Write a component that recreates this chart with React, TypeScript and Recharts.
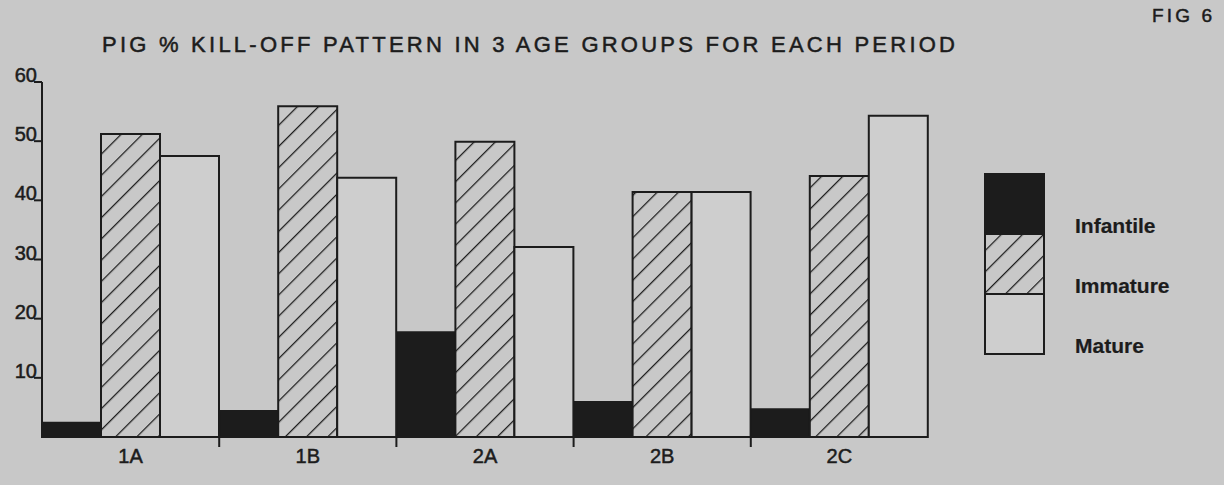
import { Bar, BarChart, Legend, XAxis, YAxis } from "recharts";

const CATEGORIES = ["1A", "1B", "2A", "2B", "2C"];
const INFANTILE = [2.4, 4.4, 17.7, 5.9, 4.7];
const IMMATURE = [51.2, 55.9, 49.9, 41.4, 44.1];
const MATURE = [47.5, 43.8, 32.1, 41.4, 54.3];
const Y_TICKS = [10, 20, 30, 40, 50, 60];

const TITLE = "PIG % KILL-OFF PATTERN IN 3 AGE GROUPS FOR EACH PERIOD";
const FIG_LABEL = "FIG 6";

const BG = "#c8c8c8";
const INK = "#1c1c1c";
const PAPER = "#cecece";
const FONT = "'Liberation Sans', Arial, sans-serif";

const WIDTH = 1224;
const HEIGHT = 485;
const MARGIN = { top: 82, right: 296, bottom: 0, left: 2 } as const;
const Y_AXIS_W = 40;
const X_AXIS_H = 48;
const BAND = (WIDTH - MARGIN.left - Y_AXIS_W - MARGIN.right) / CATEGORIES.length;

const SERIES = [
  { key: "infantile", name: "Infantile", fill: INK },
  { key: "immature", name: "Immature", fill: "url(#hatch)" },
  { key: "mature", name: "Mature", fill: PAPER },
] as const;

const data = CATEGORIES.map((period, i) => ({
  period,
  infantile: INFANTILE[i],
  immature: IMMATURE[i],
  mature: MATURE[i],
}));

type TickProps = {
  x?: number | string;
  y?: number | string;
  index?: number;
  payload?: { value: string | number };
};

// scanned type looks heavy, so every label gets a thin outline
const inkText = { fill: INK, stroke: INK, strokeWidth: 0.5, fontFamily: FONT };

function ValueTick({ x, y, payload }: TickProps) {
  const ax = Number(x);
  const ty = Number(y);
  return (
    <g>
      <text x={ax - 5} y={ty} textAnchor="end" fontSize={20} {...inkText}>
        {payload?.value}
      </text>
      <line x1={ax - 8} x2={ax} y1={ty} y2={ty} stroke={INK} strokeWidth={2} />
    </g>
  );
}

function PeriodTick({ x, y, payload, index = 0 }: TickProps) {
  const cx = Number(x);
  const ty = Number(y);
  const edge = cx - BAND / 2;
  return (
    <g>
      <text x={cx} y={ty + 26} textAnchor="middle" fontSize={20} {...inkText}>
        {payload?.value}
      </text>
      {index > 0 && (
        <line x1={edge} x2={edge} y1={ty} y2={ty + 10} stroke={INK} strokeWidth={2} />
      )}
    </g>
  );
}

function KeyBox() {
  const boxH = 60;
  return (
    <svg width={220} height={190}>
      {SERIES.map((s, i) => (
        <g key={s.key}>
          <rect
            x={5}
            y={4 + i * boxH}
            width={59}
            height={boxH}
            fill={s.fill}
            stroke={INK}
            strokeWidth={2}
          />
          <text x={95} y={3 + (i + 1) * boxH} fontSize={21} fontWeight={700} {...inkText} strokeWidth={0.2}>
            {s.name}
          </text>
        </g>
      ))}
    </svg>
  );
}

export default function App() {
  return (
    <div
      style={{
        position: "absolute",
        left: 0,
        top: 0,
        width: WIDTH,
        height: HEIGHT,
        background: BG,
        overflow: "hidden",
      }}
    >
      <svg width={0} height={0} style={{ position: "absolute" }}>
        <defs>
          <pattern
            id="hatch"
            width={15}
            height={15}
            patternUnits="userSpaceOnUse"
            patternTransform="rotate(45)"
          >
            <rect width={15} height={15} fill={BG} />
            <line x1={0} y1={0} x2={0} y2={15} stroke={INK} strokeWidth={2.5} />
          </pattern>
        </defs>
      </svg>

      <svg width={WIDTH} height={70} style={{ position: "absolute", left: 0, top: 0 }}>
        <text x={102} y={52} textLength={853} lengthAdjust="spacing" fontSize={22} {...inkText}>
          {TITLE}
        </text>
        <text x={1152} y={22} textLength={60} lengthAdjust="spacing" fontSize={19} {...inkText}>
          {FIG_LABEL}
        </text>
      </svg>

      <div style={{ position: "absolute", left: 0, top: 0 }}>
        <BarChart
          width={WIDTH}
          height={HEIGHT}
          data={data}
          margin={MARGIN}
          barCategoryGap={0}
          barGap={0}
        >
          <XAxis
            dataKey="period"
            height={X_AXIS_H}
            tickSize={0}
            tickMargin={0}
            axisLine={{ stroke: INK, strokeWidth: 2 }}
            tickLine={false}
            interval={0}
            tick={(props: TickProps) => <PeriodTick {...props} />}
          />
          <YAxis
            type="number"
            domain={[0, 60]}
            ticks={Y_TICKS}
            width={Y_AXIS_W}
            tickSize={0}
            tickMargin={0}
            axisLine={{ stroke: INK, strokeWidth: 2 }}
            tickLine={false}
            tick={(props: TickProps) => <ValueTick {...props} />}
          />
          <Legend
            layout="horizontal"
            verticalAlign="middle"
            align="center"
            wrapperStyle={{ left: 980, top: 170, width: 220 }}
            content={() => <KeyBox />}
          />
          {SERIES.map((s) => (
            <Bar
              key={s.key}
              dataKey={s.key}
              name={s.name}
              fill={s.fill}
              stroke={INK}
              strokeWidth={2}
              isAnimationActive={false}
            />
          ))}
        </BarChart>
      </div>
    </div>
  );
}
